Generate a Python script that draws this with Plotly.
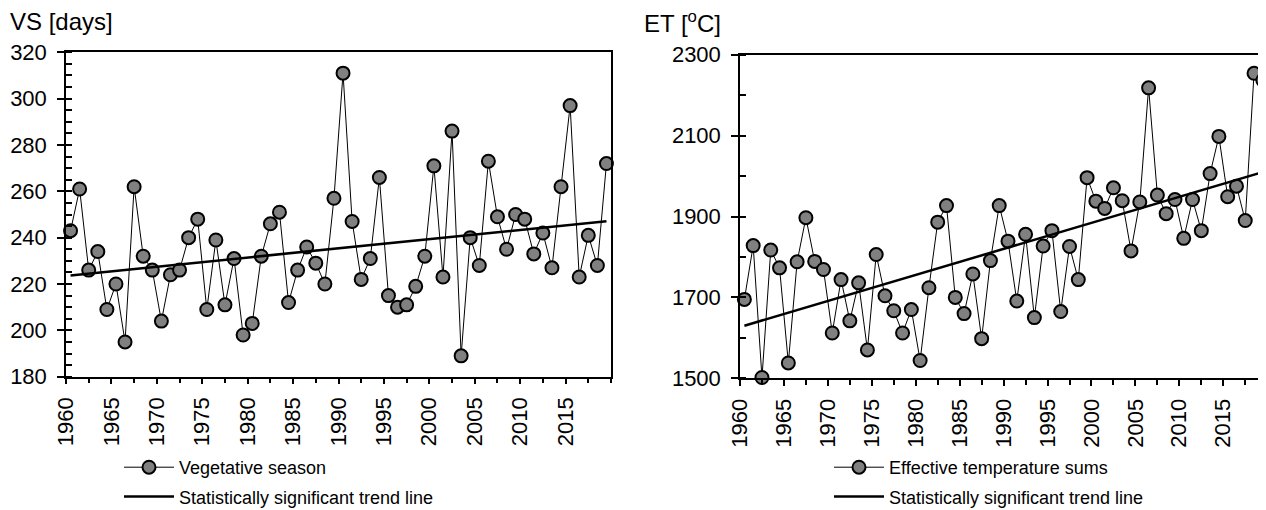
import plotly.graph_objects as go

# ---------------- data ----------------
years = list(range(1960, 2020))

vs_days = [243, 261, 226, 234, 209, 220, 195, 262, 232, 226,
           204, 224, 226, 240, 248, 209, 239, 211, 231, 198,
           203, 232, 246, 251, 212, 226, 236, 229, 220, 257,
           311, 247, 222, 231, 266, 215, 210, 211, 219, 232,
           271, 223, 286, 189, 240, 228, 273, 249, 235, 250,
           248, 233, 242, 227, 262, 297, 223, 241, 228, 272]

et_sums = [1695, 1828, 1502, 1817, 1773, 1538, 1788, 1897, 1789, 1769,
           1612, 1744, 1642, 1736, 1570, 1806, 1704, 1667, 1612, 1670,
           1544, 1724, 1886, 1927, 1700, 1660, 1758, 1598, 1791, 1927,
           1839, 1691, 1856, 1650, 1827, 1865, 1665, 1826, 1744, 1996,
           1938, 1920, 1971, 1939, 1815, 1936, 2218, 1953, 1907, 1942,
           1846, 1942, 1865, 2006, 2098, 1949, 1975, 1890, 2254, 2237]

vs_trend_ends = [223.7, 247.1]      # trend value at first and last year
et_trend_ends = [1630, 2010]

x_ticks = list(range(1960, 2016, 5))
x_ticktext = [str(v) for v in x_ticks]
vs_ticks = list(range(180, 321, 20))
et_ticks = list(range(1500, 2301, 200))

# each year is plotted at the middle of its interval on the axis
x_pos = [y + 0.5 for y in years]
trend_x = [x_pos[0], x_pos[-1]]

FONT = "Liberation Sans, Arial, sans-serif"
PAGE_W, PAGE_H = 1266, 510
OFF = 8                      # default body margin of the html page
W, H = PAGE_W - OFF, PAGE_H - OFF


def fx(page_x):
    return (page_x - OFF) / W


def fy(page_y):
    return (H - (page_y - OFF)) / H


MARK = dict(size=13, color="#808080", line=dict(color="black", width=2))

fig = go.Figure()

fig.add_trace(go.Scatter(x=x_pos, y=vs_days, mode="lines+markers",
                         name="Vegetative season",
                         line=dict(color="black", width=1), marker=MARK,
                         cliponaxis=False, xaxis="x", yaxis="y",
                         legend="legend", legendgroup="a"))
fig.add_trace(go.Scatter(x=trend_x, y=vs_trend_ends, mode="lines",
                         name="Statistically significant trend line",
                         line=dict(color="black", width=2.5),
                         xaxis="x", yaxis="y", legend="legend", legendgroup="b"))
fig.add_trace(go.Scatter(x=x_pos, y=et_sums, mode="lines+markers",
                         name="Effective temperature sums",
                         line=dict(color="black", width=1), marker=MARK,
                         cliponaxis=False, xaxis="x2", yaxis="y2",
                         legend="legend2", legendgroup="c"))
fig.add_trace(go.Scatter(x=trend_x, y=et_trend_ends, mode="lines",
                         name="Statistically significant trend line",
                         line=dict(color="black", width=2.5),
                         xaxis="x2", yaxis="y2", legend="legend2", legendgroup="d"))

tickfont = dict(family=FONT, size=22, color="black")

left_dom = [fx(66), fx(611)]
right_dom = [fx(740), 1.0]
left_ydom = [fy(376.7), fy(52.3)]
right_ydom = [fy(378.3), fy(54.7)]
left_xr = [1960, 2020]
right_xr = [1960, 1960 + (PAGE_W - 740) / 8.787]


def xaxis_main(dom, rng, anchor):
    return dict(domain=dom, range=rng, anchor=anchor, tickvals=x_ticks,
                ticktext=x_ticktext, tickangle=-90, ticks="outside",
                ticklen=6, tickwidth=1.5, tickcolor="black",
                tickfont=tickfont, ticklabelstandoff=4,
                showline=True, linewidth=1.5,
                linecolor="black", mirror=True, showgrid=False,
                zeroline=False, automargin=False,
                minor=dict(dtick=2.5, tick0=1960, ticks="outside", ticklen=5,
                           tickwidth=1.5, tickcolor="black", showgrid=False))


def xaxis_inner(over, rng, anchor):
    return dict(overlaying=over, range=rng, anchor=anchor, tickvals=x_ticks,
                ticks="inside", ticklen=6, tickwidth=1.5, tickcolor="black",
                showticklabels=False, showline=False, showgrid=False,
                zeroline=False, side="bottom", automargin=False)


def yaxis_main(dom, rng, tv, minor_dt, anchor, mirror):
    return dict(domain=dom, range=rng, anchor=anchor, tickvals=tv,
                ticks="outside", ticklen=7, tickwidth=1.5, tickcolor="black",
                tickfont=tickfont, ticklabelstandoff=6,
                showline=True, linewidth=1.5,
                linecolor="black", mirror=mirror, showgrid=False,
                zeroline=False, automargin=False,
                minor=dict(dtick=minor_dt, tick0=rng[0], ticks="inside",
                           ticklen=6, tickwidth=1.5, tickcolor="black",
                           showgrid=False))


def yaxis_inner(over, rng, tv, anchor):
    return dict(overlaying=over, range=rng, anchor=anchor, tickvals=tv,
                ticks="inside", ticklen=6, tickwidth=1.5, tickcolor="black",
                showticklabels=False, showline=False, showgrid=False,
                zeroline=False, side="left", automargin=False)


legend_common = dict(font=dict(family=FONT, size=18, color="black"),
                     bgcolor="rgba(0,0,0,0)", xanchor="left", yanchor="top",
                     xref="container", yref="container",
                     tracegroupgap=3, itemwidth=50)

fig.update_layout(
    width=W, height=H,
    margin=dict(l=0, r=0, t=0, b=0, autoexpand=False),
    paper_bgcolor="white", plot_bgcolor="white",
    font=dict(family=FONT, color="black"),
    xaxis=xaxis_main(left_dom, left_xr, "y"),
    yaxis=yaxis_main(left_ydom, [180, 320], vs_ticks, 5, "x", True),
    xaxis2=xaxis_main(right_dom, right_xr, "y2"),
    yaxis2=yaxis_main(right_ydom, [1500, 2300], et_ticks, 100, "x2", False),
    xaxis3=xaxis_inner("x", left_xr, "y"),
    yaxis3=yaxis_inner("y", [180, 320], vs_ticks, "x"),
    xaxis4=xaxis_inner("x2", right_xr, "y2"),
    yaxis4=yaxis_inner("y2", [1500, 2300], et_ticks, "x2"),
    legend=dict(x=fx(119), y=fy(449), **legend_common),
    legend2=dict(x=fx(829), y=fy(449), **legend_common),
    annotations=[
        dict(text="VS [days]", xref="paper", yref="paper", x=fx(8),
             y=fy(22), xanchor="left", yanchor="middle",
             showarrow=False, font=dict(family=FONT, size=24, color="black")),
        dict(text="ET [<sup>o</sup>C]", xref="paper", yref="paper",
             x=fx(642), y=fy(22), xanchor="left", yanchor="middle",
             showarrow=False, font=dict(family=FONT, size=24, color="black")),
    ],
)

fig.write_html("out.html")
